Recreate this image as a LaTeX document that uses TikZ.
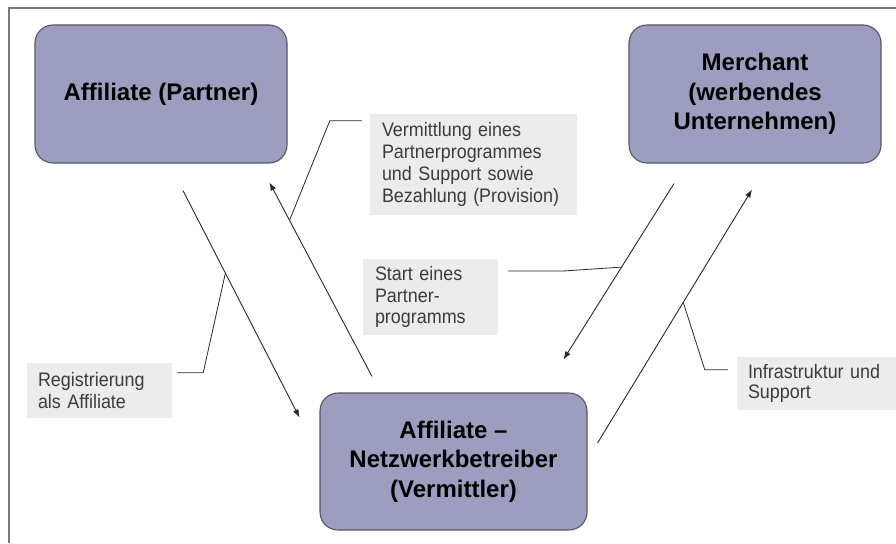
\documentclass[tikz,border=0pt]{standalone}
\usepackage{fontspec}
\setmainfont{Liberation Sans}
\newfontfamily\notefont[FakeStretch=0.92]{Liberation Sans}
\usetikzlibrary{calc,arrows.meta}

\definecolor{boxfill}{RGB}{157,157,191}
\definecolor{boxline}{RGB}{85,85,105}
\definecolor{notefill}{RGB}{235,236,235}
\definecolor{notetext}{RGB}{60,60,60}
\definecolor{framegray}{RGB}{120,120,120}
\definecolor{linegray}{RGB}{40,40,40}

\begin{document}
\begin{tikzpicture}[x=1pt,y=-1pt,
  party/.style={draw=boxline, line width=1.1pt, fill=boxfill, rounded corners=18pt,
    minimum height=138pt, align=center, text=black, inner sep=0pt,
    font=\bfseries\fontsize{24}{29.5}\selectfont},
  note/.style={fill=notefill, text=notetext, align=left, inner ysep=0pt,
    font=\notefont\fontsize{19.5}{21.7}\selectfont},
  flow/.style={draw=linegray, line width=0.9pt, -{Latex[length=8pt,width=6pt]}},
  lead/.style={draw=linegray, line width=0.8pt},
]
\useasboundingbox (0,0) rectangle (896,543);

% outer frame (left and top edges)
\draw[framegray, line width=1.2pt] (9,543) -- (9,8) -- (896,8);

% the three parties
\node[party, minimum width=252pt] (affiliate) at (161,94) {Affiliate (Partner)};
\node[party, minimum width=252pt] (merchant) at (755,94) {Merchant\\(werbendes\\Unternehmen)};
\node[party, minimum width=267pt, minimum height=137pt] (network) at (453.5,461.5)
  {Affiliate –\\Netzwerkbetreiber\\(Vermittler)};

% explanatory notes
\node[note, minimum width=207pt, minimum height=101pt, inner xsep=12pt, text width=183pt]
  (vermittlung) at (473.5,164.5)
  {Vermittlung eines\\Partnerprogrammes\\und Support sowie\\Bezahlung (Provision)};
\node[note, minimum width=135pt, minimum height=76pt, inner xsep=12pt, text width=111pt]
  (start) at (430.5,297) {Start eines\\Partner-\\programms};
\node[note, minimum width=145pt, minimum height=55pt, inner xsep=11pt, text width=123pt]
  (registrierung) at (99.5,390.5) {Registrierung\\als Affiliate};
\node[note, minimum width=159pt, minimum height=53pt, inner xsep=11pt, text width=137pt,
  font=\notefont\fontsize{19.5}{20.5}\selectfont]
  (infra) at (816.5,383.5) {Infrastruktur und\\Support};

% arrow end points
\coordinate (a1) at ($(affiliate.south)+(22,27)$);
\coordinate (a2) at ($(network.north west)+(-20,25)$);
\coordinate (b1) at ($(network.north)+(-81.5,-16)$);
\coordinate (b2) at ($(affiliate.south east)+(-18,19)$);
\coordinate (c1) at ($(merchant.south)+(-81,20)$);
\coordinate (c2) at ($(network.north east)+(-24,-33)$);
\coordinate (d1) at ($(network.east)+(10,-18.5)$);
\coordinate (d2) at ($(merchant.south)+(-3,26)$);

% flows between the parties
\draw[flow] (a1) -- (a2);
\draw[flow] (b1) -- (b2);
\draw[flow] (c1) -- (c2);
\draw[flow] (d1) -- (d2);

% leader lines from the notes to the flows
\coordinate (vm0) at ($(vermittlung.north west)+(-8,7)$);
\coordinate (st0) at ($(start.east)+(10,-26)$);
\coordinate (rg0) at ($(registrierung.north east)+(5,10)$);
\coordinate (in0) at ($(infra.north west)+(-9,13)$);

\draw[lead] (vm0) -- ++(-32,0) -- ($(b1)!0.805!(b2)$);
\draw[lead] (st0) -- ++(55,0) -- ($(c1)!0.475!(c2)$);
\draw[lead] (rg0) -- ++(26,0) -- ($(a1)!0.364!(a2)$);
\draw[lead] (in0) -- ++(-23,0) -- ($(d1)!0.555!(d2)$);
\end{tikzpicture}
\end{document}
